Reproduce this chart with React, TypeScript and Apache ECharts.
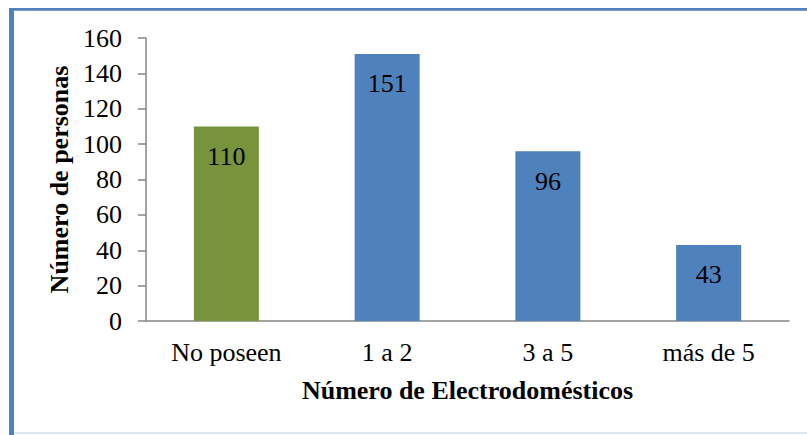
import React, { useEffect, useRef } from "react";
import * as echarts from "echarts";

const categories = ["No poseen", "1 a 2", "3 a 5", "más de 5"];
const values = [110, 151, 96, 43];
const barColors = ["#77933C", "#4F81BD", "#4F81BD", "#4F81BD"];
const yTicks = { min: 0, max: 160, interval: 20 };

const FONT = "'Times New Roman', 'Liberation Serif', serif";
const FS = 26;

export default function App() {
  const ref = useRef<HTMLDivElement>(null);
  useEffect(() => {
    if (!ref.current) return;
    const chart = echarts.init(ref.current, undefined, { renderer: "svg" });
    chart.setOption({
      animation: false,
      backgroundColor: "#ffffff",
      grid: { left: 146, right: 18, top: 38, bottom: 114 },
      graphic: [
        { type: "rect", shape: { x: 9, y: 8, width: 798, height: 2 }, style: { fill: "#4F81BD" } },
        { type: "rect", shape: { x: 9, y: 10, width: 798, height: 1 }, style: { fill: "#7FA3D0" } },
        { type: "rect", shape: { x: 9, y: 8, width: 5, height: 427 }, style: { fill: "#4F81BD" } },
        { type: "rect", shape: { x: 14, y: 432, width: 793, height: 2 }, style: { fill: "#DDE7F1" } },
      ],
      xAxis: {
        type: "category",
        data: categories,
        name: "Número de Electrodomésticos",
        nameLocation: "middle",
        nameGap: 56,
        nameTextStyle: { fontFamily: FONT, fontSize: FS, fontWeight: "bold", color: "#000" },
        axisLine: { lineStyle: { color: "#868686", width: 1.5 } },
        axisTick: { show: false },
        axisLabel: { fontFamily: FONT, fontSize: FS, color: "#000", margin: 18 },
      },
      yAxis: {
        type: "value",
        min: yTicks.min,
        max: yTicks.max,
        interval: yTicks.interval,
        name: "Número de personas",
        nameLocation: "middle",
        nameGap: 70,
        nameTextStyle: { fontFamily: FONT, fontSize: FS, fontWeight: "bold", color: "#000" },
        axisLine: { show: true, lineStyle: { color: "#868686", width: 1.5 } },
        axisTick: { show: true, length: 8, lineStyle: { color: "#868686", width: 1.5 } },
        axisLabel: { fontFamily: FONT, fontSize: FS, color: "#000", margin: 24 },
        splitLine: { show: false },
      },
      series: [
        {
          type: "bar",
          barWidth: 65,
          data: values.map((v, i) => ({ value: v, itemStyle: { color: barColors[i] } })),
          label: {
            show: true,
            position: "insideTop",
            distance: 17,
            fontFamily: FONT,
            fontSize: FS,
            color: "#000",
          },
        },
      ],
    });
    return () => chart.dispose();
  }, []);
  return (
    <div
      ref={ref}
      style={{ position: "absolute", left: 0, top: 0, width: 807, height: 435 }}
    />
  );
}
